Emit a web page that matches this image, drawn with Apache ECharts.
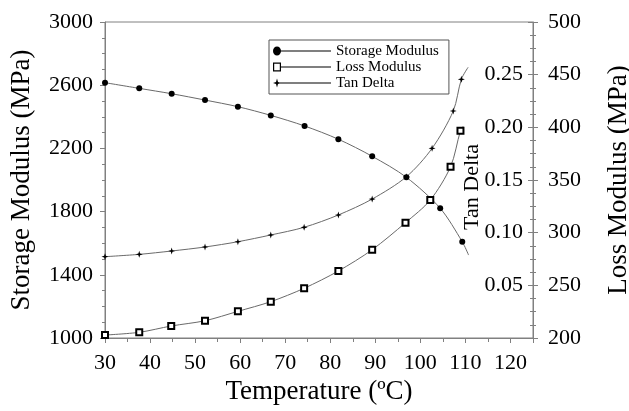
<!DOCTYPE html>
<html><head><meta charset="utf-8">
<script src="https://cdn.jsdelivr.net/npm/echarts@6/dist/echarts.min.js"></script>
<style>html,body{margin:0;padding:0;background:#fff}#c{width:629px;height:411px}</style>
</head><body><div id="c"></div>
<script>
// ---- data ----
const storageTemp = [30, 37.6, 44.8, 52.2, 59.5, 66.8, 74.3, 81.8, 89.3, 96.9, 104.4, 109.3];
const storageMPa  = [2616, 2580, 2546, 2506, 2464, 2409, 2342, 2258, 2150, 2017, 1821, 1609];
const storageCurveEnd = [110.7, 1525];

const lossTemp = [30, 37.6, 44.7, 52.2, 59.5, 66.8, 74.2, 81.8, 89.3, 96.7, 102.2, 106.7, 108.9];
const lossMPa  = [202.8, 205.4, 211.4, 216.4, 225.3, 234.5, 247.2, 263.6, 283.8, 309.5, 331.0, 362.6, 396.8];
const lossCurveEnd = [109.5, 401];

const tanTemp  = [30, 37.6, 44.8, 52.2, 59.5, 66.8, 74.2, 81.8, 89.3, 96.9, 102.6, 107.3, 109.1];
const tanDelta = [0.0772, 0.0794, 0.0826, 0.0864, 0.0914, 0.0978, 0.1051, 0.1168, 0.1319, 0.1531, 0.1801, 0.2155, 0.2456];
const tanCurveEnd = [110.6, 0.257];

const seriesNames = ['Storage Modulus', 'Loss Modulus', 'Tan Delta'];
const xAxisRange = {min: 30, max: 125, interval: 10};
const storageAxisRange = {min: 1000, max: 3000, interval: 400};
const tanAxisRange = {min: 0, max: 0.30, interval: 0.05};
const lossAxisRange = {min: 200, max: 500, interval: 50};

// ---- build ----
const FONT = 'Liberation Serif';
const AX = '#808080';
function pts(t, v, end) {
  const d = t.map((x, i) => [x, v[i]]);
  d.push({value: end, symbol: 'none'});
  return d;
}
const starPath = 'path://M0,-5 L1.2,-1.2 L5,0 L1.2,1.2 L0,5 L-1.2,1.2 L-5,0 L-1.2,-1.2 Z';
const legIconCircle = 'path://M0,4.5 A4,4 0 1,1 8,4.5 A4,4 0 1,1 0,4.5 Z M4,4 L58,4 L58,5 L4,5 Z';
const legIconSquare = 'path://M0,0.5 L8,0.5 L8,8.5 L0,8.5 Z M1.2,1.7 L1.2,7.3 L6.8,7.3 L6.8,1.7 Z M8,4 L58,4 L58,5 L8,5 Z';
const legIconStar = 'path://M4,0 L5,3.5 L8,4.5 L5,5.5 L4,9 L3,5.5 L0,4.5 L3,3.5 Z M5,4 L58,4 L58,5 L5,5 Z';

const lineStyle = {color: '#6a6a6a', width: 1};
const axisCommon = {
  axisLine: {show: true, lineStyle: {color: AX, width: 1}},
  axisTick: {show: true, length: 5, lineStyle: {color: AX}},
  minorTick: {show: true, length: 3, lineStyle: {color: AX}},
  splitLine: {show: false},
  axisLabel: {color: '#000', fontFamily: FONT, fontSize: 22, formatter: v => String(v)},
  nameTextStyle: {color: '#000', fontFamily: FONT, fontSize: 27},
  nameLocation: 'middle'
};

const chart = echarts.init(document.getElementById('c'), null, {renderer: 'canvas'});
chart.setOption({
  animation: false,
  backgroundColor: '#fff',
  grid: {left: 105, right: 96, top: 22, bottom: 73, show: true, borderColor: AX, borderWidth: 1,
         containLabel: false, outerBoundsMode: 'none'},
  legend: {
    orient: 'vertical', left: 269, top: 40,
    padding: [3, 10, 3, 4], itemGap: 0, itemWidth: 58, itemHeight: 9,
    borderColor: '#555', borderWidth: 1, symbolKeepAspect: false,
    textStyle: {fontFamily: FONT, fontSize: 15, color: '#000', lineHeight: 16},
    data: [
      {name: seriesNames[0], icon: legIconCircle, itemStyle: {borderWidth: 0}},
      {name: seriesNames[1], icon: legIconSquare, itemStyle: {borderWidth: 0, color: '#000'}},
      {name: seriesNames[2], icon: legIconStar, itemStyle: {borderWidth: 0}}
    ]
  },
  graphic: [{
    type: 'text', x: 472, y: 187, rotation: Math.PI / 2,
    style: {text: seriesNames[2], fontFamily: FONT, fontSize: 22, fill: '#000', align: 'center', verticalAlign: 'middle'}
  }],
  xAxis: Object.assign({}, axisCommon, {
    type: 'value', min: xAxisRange.min, max: xAxisRange.max, interval: xAxisRange.interval,
    minorTick: {show: true, splitNumber: 2, length: 4, lineStyle: {color: AX}},
    axisLabel: Object.assign({}, axisCommon.axisLabel, {showMaxLabel: false, margin: 14}),
    name: 'Temperature (ºC)', nameGap: 38
  }),
  yAxis: [
    Object.assign({}, axisCommon, {
      type: 'value', position: 'left',
      min: storageAxisRange.min, max: storageAxisRange.max, interval: storageAxisRange.interval,
      minorTick: {show: true, splitNumber: 4, length: 3, lineStyle: {color: AX}},
      axisLabel: Object.assign({}, axisCommon.axisLabel, {margin: 12}),
      name: 'Storage Modulus (MPa)', nameGap: 70
    }),
    Object.assign({}, axisCommon, {
      type: 'value', position: 'right',
      min: tanAxisRange.min, max: tanAxisRange.max, interval: tanAxisRange.interval,
      axisLine: {show: false},
      axisTick: {show: true, inside: true, length: 5, lineStyle: {color: AX}},
      minorTick: {show: true, splitNumber: 4, length: 3, lineStyle: {color: AX}},
      axisLabel: Object.assign({}, axisCommon.axisLabel, {inside: true, margin: 10, showMinLabel: false, showMaxLabel: false,
        formatter: v => v.toFixed(2)})
    }),
    Object.assign({}, axisCommon, {
      type: 'value', position: 'right',
      min: lossAxisRange.min, max: lossAxisRange.max, interval: lossAxisRange.interval,
      minorTick: {show: true, splitNumber: 4, length: 3, lineStyle: {color: AX}},
      axisLabel: Object.assign({}, axisCommon.axisLabel, {margin: 15}),
      name: 'Loss Modulus (MPa)', nameGap: 72
    })
  ],
  series: [
    {name: seriesNames[0], type: 'line', yAxisIndex: 0, smooth: 0.3,
     data: pts(storageTemp, storageMPa, storageCurveEnd),
     symbol: 'circle', symbolSize: 6, itemStyle: {color: '#000'}, lineStyle: lineStyle},
    {name: seriesNames[1], type: 'line', yAxisIndex: 2, smooth: 0.3,
     data: pts(lossTemp, lossMPa, lossCurveEnd),
     symbol: 'emptyRect', symbolSize: 6, itemStyle: {color: '#000', borderColor: '#000', borderWidth: 1}, lineStyle: lineStyle},
    {name: seriesNames[2], type: 'line', yAxisIndex: 1, smooth: 0.3,
     data: pts(tanTemp, tanDelta, tanCurveEnd),
     symbol: starPath, symbolSize: 7, itemStyle: {color: '#000'}, lineStyle: lineStyle}
  ]
});
</script></body></html>
